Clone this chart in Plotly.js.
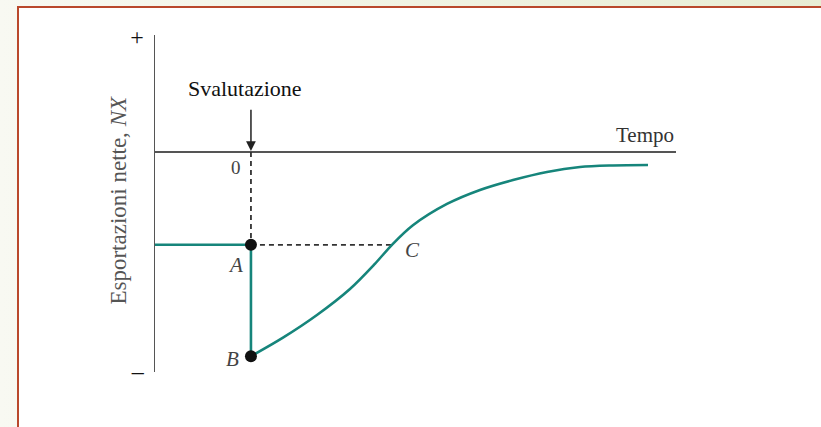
<!DOCTYPE html>
<html>
<head>
<meta charset="utf-8">
<script src="https://cdn.plot.ly/plotly-3.0.1.min.js"></script>
<style>
  html, body { margin: 0; padding: 0; width: 821px; height: 427px; overflow: hidden;
    background: linear-gradient(to right, #f8f9f2, #e8edd4); }
  #frame { position: absolute; left: 17px; top: 6px; width: 830px; height: 440px;
    border: 2px solid #b9482c; background: #fff; }
  #chart { position: absolute; left: 0; top: 0; width: 821px; height: 427px; }
</style>
</head>
<body>
<div id="frame"></div>
<div id="chart"></div>
<script>
// J-curve: net exports after a devaluation
var startT = -1;          // time at the vertical axis
var devalT = 0;           // devaluation date
var nxA = -1.0;           // net exports before devaluation (point A)
var nxB = -2.2;           // net exports just after (point B)
var tC = 1.47;            // time when NX is back to A's level (point C)
var arrowTopNX = 0.47;    // top of the "Svalutazione" arrow

var curveT  = [0, 0.334, 0.688, 1.032, 1.292, 1.47, 1.688, 2.043, 2.387, 2.731, 3.085, 3.429, 3.773, 4.138];
var curveNX = [-2.2, -2.0, -1.756, -1.476, -1.205, -1.0, -0.79, -0.56, -0.409, -0.302, -0.215, -0.162, -0.145, -0.14];

var yTickVals = [1.24, -2.35];
var yTickText = ["+", "–"];
var pointLabels = ["A", "B", "C"];

var teal = "#16857b";
var serif = "Liberation Serif, Times New Roman, serif";

var traces = [
  {
    // dashed guides from A up to the axis and across to C
    x: [devalT, devalT, null, devalT, tC],
    y: [0, nxA, null, nxA, nxA],
    mode: "lines", line: {color: "#333", width: 1.8, dash: "5px,4px"},
    hoverinfo: "skip"
  },
  {
    x: [startT, devalT], y: [nxA, nxA],
    mode: "lines", line: {color: teal, width: 2.6}
  },
  {
    x: [devalT, devalT], y: [nxA, nxB],
    mode: "lines", line: {color: teal, width: 2.6}
  },
  {
    x: curveT, y: curveNX,
    mode: "lines", line: {color: teal, width: 2.6, shape: "spline", smoothing: 0.9}
  },
  {
    x: [devalT, devalT], y: [nxA, nxB],
    mode: "markers", marker: {color: "#111", size: 12}
  }
];

var labelFont = {family: serif, size: 21, color: "#444"};

var layout = {
  width: 821, height: 427,
  margin: {l: 155, r: 145, t: 35, b: 55},
  paper_bgcolor: "rgba(0,0,0,0)",
  plot_bgcolor: "rgba(0,0,0,0)",
  showlegend: false,
  xaxis: {
    range: [startT, 4.43], showgrid: false, zeroline: false,
    showline: false, showticklabels: false, ticks: ""
  },
  yaxis: {
    range: [-2.37, 1.26], showgrid: false,
    zeroline: true, zerolinecolor: "#555", zerolinewidth: 1.5,
    showline: true, linecolor: "#555", linewidth: 1.5,
    tickvals: yTickVals, ticktext: yTickText, ticks: "",
    ticklabelstandoff: 5,
    tickfont: {family: serif, size: 24, color: "#111"}
  },
  annotations: [
    {
      x: devalT, y: 0, ax: devalT, ay: arrowTopNX, xref: "x", yref: "y", axref: "x", ayref: "y",
      text: "", showarrow: true, arrowhead: 2, arrowsize: 1.3, arrowwidth: 1.5,
      arrowcolor: "#222", standoff: 1
    },
    {
      x: devalT, y: arrowTopNX, xref: "x", yref: "y", text: "Svalutazione",
      showarrow: false, xshift: -6, yshift: 20,
      font: {family: serif, size: 22, color: "#111"}
    },
    {
      x: 1, y: 0, xref: "paper", yref: "y", text: "Tempo", showarrow: false,
      xanchor: "right", yanchor: "bottom", yshift: 3,
      font: {family: serif, size: 21, color: "#333"}
    },
    {
      x: devalT, y: 0, xref: "x", yref: "y", text: "0", showarrow: false,
      xshift: -15, yshift: -16, font: {family: serif, size: 19, color: "#444"}
    },
    {
      x: devalT, y: nxA, xref: "x", yref: "y", text: "<i>" + pointLabels[0] + "</i>",
      showarrow: false, xshift: -15, yshift: -20, font: labelFont
    },
    {
      x: devalT, y: nxB, xref: "x", yref: "y", text: "<i>" + pointLabels[1] + "</i>",
      showarrow: false, xshift: -18, yshift: -3, font: labelFont
    },
    {
      x: tC, y: nxA, xref: "x", yref: "y", text: "<i>" + pointLabels[2] + "</i>",
      showarrow: false, xshift: 21, yshift: -5, font: labelFont
    },
    {
      x: -0.098, y: 0.51, xref: "paper", yref: "paper", textangle: -90,
      text: "Esportazioni nette, <i>NX</i>", showarrow: false,
      font: {family: serif, size: 23, color: "#555"}
    }
  ]
};

Plotly.newPlot("chart", traces, layout, {staticPlot: true});
</script>
</body>
</html>
